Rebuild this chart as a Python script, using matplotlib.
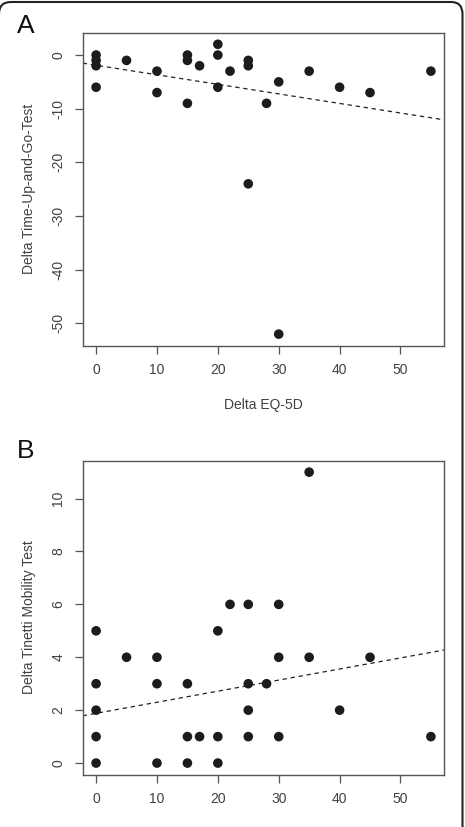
import matplotlib
matplotlib.use("Agg")
import matplotlib.pyplot as plt
from matplotlib.path import Path
from matplotlib.patches import PathPatch

# ---- data ----
eq5d_a = [0, 0, 0, 0, 5, 10, 10, 15, 15, 15, 17, 20, 20, 20, 22, 25, 25, 25,
          28, 30, 30, 35, 40, 45, 55]
tug_a = [0, -1, -2, -6, -1, -3, -7, 0, -1, -9, -2, 2, 0, -6, -3, -1, -2, -24,
         -9, -5, -52, -3, -6, -7, -3]
fit_a = (-1.9, -0.178)  # intercept, slope

eq5d_b = [0, 0, 0, 0, 0, 5, 10, 10, 10, 15, 15, 15, 17, 20, 20, 20, 22,
          25, 25, 25, 25, 28, 30, 30, 30, 35, 35, 40, 45, 55]
tinetti_b = [5, 3, 2, 1, 0, 4, 4, 3, 0, 3, 1, 0, 1, 5, 1, 0, 6,
             6, 3, 2, 1, 3, 6, 4, 1, 11, 4, 2, 4, 1]
fit_b = (1.88, 0.0419)

xticks = [0, 10, 20, 30, 40, 50]
yticks_a = [0, -10, -20, -30, -40, -50]
yticks_b = [0, 2, 4, 6, 8, 10]

xlabel_a = "Delta EQ-5D"
ylabel_a = "Delta Time-Up-and-Go-Test"
ylabel_b = "Delta Tinetti Mobility Test"

plt.rcParams['font.family'] = ['Liberation Sans', 'DejaVu Sans']
plt.rcParams['axes.unicode_minus'] = False

W, H = 465, 827
fig = plt.figure(figsize=(W / 100, H / 100), dpi=100)

text_col = '#404040'
box_col = '#555555'
pt_col = '#1c1c1c'


def px_rect(left, top, right, bottom):
    return [left / W, 1 - bottom / H, (right - left) / W, (bottom - top) / H]


def style(ax, yticks, ylabel):
    ax.set_xlim(-2.2, 57.2)
    ax.set_xticks(xticks)
    ax.set_yticks(yticks)
    for s in ax.spines.values():
        s.set_color(box_col)
        s.set_linewidth(1.0)
    ax.tick_params(direction='out', length=5.5, width=0.9, color=box_col,
                   labelsize=10, labelcolor=text_col, pad=7)
    for lab in ax.get_yticklabels():
        lab.set_rotation(90)
        lab.set_va('center')
    ax.set_ylabel(ylabel, fontsize=10, color=text_col, labelpad=11)


axA = fig.add_axes(px_rect(82.7, 32.7, 444.3, 345.7))
axA.scatter(eq5d_a, tug_a, s=48, color=pt_col, edgecolors='none', zorder=3)
axA.axline((0, fit_a[0]), slope=fit_a[1], color='#222222', lw=0.9,
           dashes=(3.5, 3), zorder=2)
axA.set_ylim(-54.16, 4.16)
style(axA, yticks_a, ylabel_a)
axA.set_xlabel(xlabel_a, fontsize=10, color=text_col, labelpad=15)

axB = fig.add_axes(px_rect(82.7, 460.5, 444.3, 774.7))
axB.scatter(eq5d_b, tinetti_b, s=48, color=pt_col, edgecolors='none', zorder=3)
axB.axline((0, fit_b[0]), slope=fit_b[1], color='#222222', lw=0.9,
           dashes=(3.5, 3), zorder=2)
axB.set_ylim(-0.44, 11.44)
style(axB, yticks_b, ylabel_b)

fig.text(17 / W, 1 - 26 / H, "A", fontsize=19, color='#111111',
         ha='left', va='center')
fig.text(17 / W, 1 - 451 / H, "B", fontsize=19, color='#111111',
         ha='left', va='center')

# rounded frame: top edge and right edge visible
def fp(x, y):
    return (x / W, 1 - y / H)

verts = [fp(-1, 14), fp(-1, 2), fp(11, 2),
         fp(451, 2),
         fp(462.5, 2), fp(462.5, 14),
         fp(462.5, 840)]
codes = [Path.MOVETO, Path.CURVE3, Path.CURVE3,
         Path.LINETO,
         Path.CURVE3, Path.CURVE3,
         Path.LINETO]
frame = PathPatch(Path(verts, codes), transform=fig.transFigure, fill=False,
                  edgecolor='#222222', linewidth=1.5)
fig.patches.append(frame)

fig.savefig("out.png", dpi=100)
